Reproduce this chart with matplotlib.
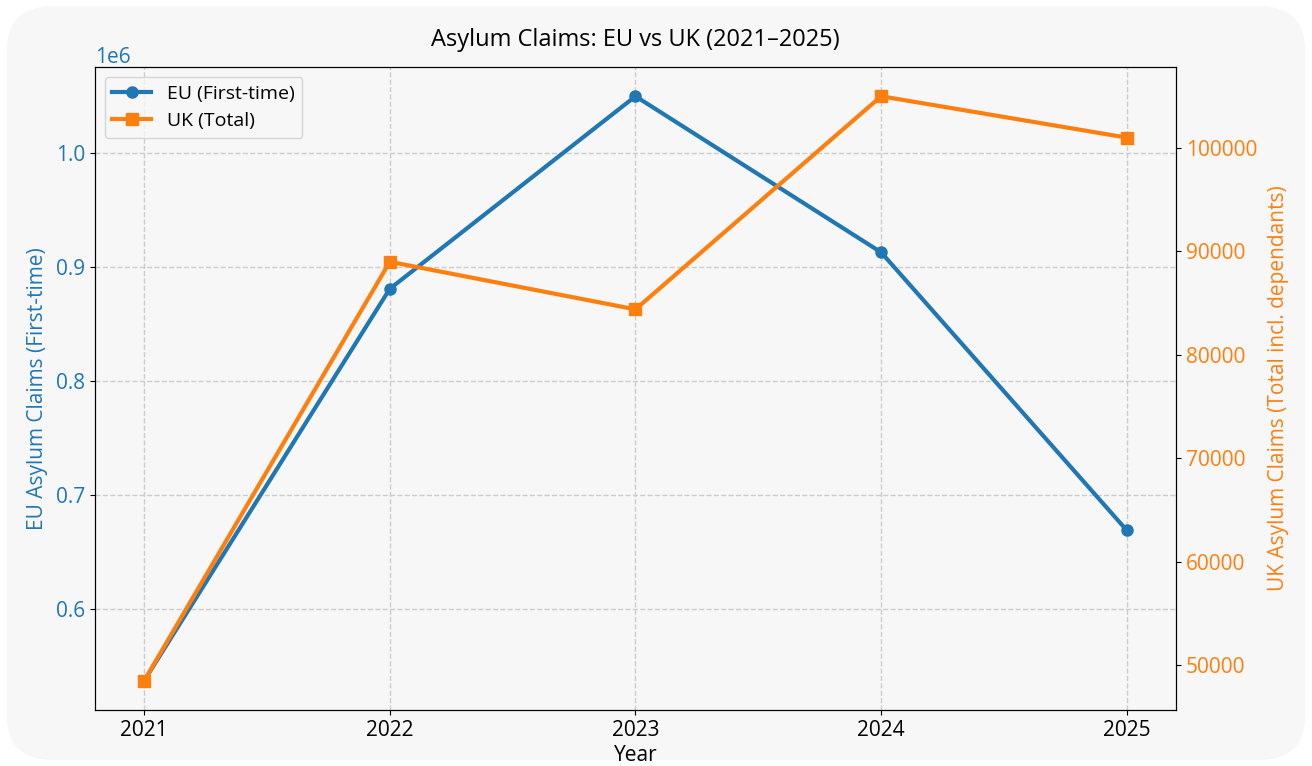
import matplotlib
matplotlib.use("Agg")
from matplotlib import pyplot as plt
from matplotlib.patches import FancyBboxPatch

plt.rcParams['font.family'] = ['Open Sans', 'DejaVu Sans']

# data
years = [2021, 2022, 2023, 2024, 2025]
eu_first_time = [537000, 881000, 1050000, 913000, 669000]
uk_total = [48500, 89000, 84400, 105000, 101000]

BLUE = '#1f77b4'
ORANGE = '#ff7f0e'
CARD = '#f7f7f7'

fig = plt.figure(figsize=(13.12, 7.66), dpi=100, facecolor='white')

# rounded card behind everything
card = FancyBboxPatch((0.005, 0.008), 0.99, 0.984,
                      boxstyle="round,pad=0,rounding_size=0.035",
                      transform=fig.transFigure, facecolor=CARD,
                      edgecolor='none', zorder=-10, mutation_aspect=1312 / 766)
fig.patches.append(card)

ax1 = fig.add_axes([0.0724, 0.0731, 0.8239, 0.8394])
ax1.set_facecolor(CARD)

l1, = ax1.plot(years, eu_first_time, color=BLUE, marker='o', lw=3, ms=8,
               label='EU (First-time)')
ax1.set_xlabel('Year', fontsize=15, labelpad=3)
ax1.set_ylabel('EU Asylum Claims (First-time)', color=BLUE, fontsize=15,
               labelpad=6)
ax1.tick_params(axis='y', labelcolor=BLUE, labelsize=15)
ax1.tick_params(axis='x', labelsize=15)
ax1.yaxis.get_offset_text().set_color(BLUE)
ax1.yaxis.get_offset_text().set_fontsize(15)
ax1.set_xticks(years)
ax1.grid(True, linestyle='--', color='#cccccc', lw=1)

ax2 = ax1.twinx()
l2, = ax2.plot(years, uk_total, color=ORANGE, marker='s', lw=3, ms=8,
               label='UK (Total)')
ax2.set_ylabel('UK Asylum Claims (Total incl. dependants)', color=ORANGE,
               fontsize=15, labelpad=8)
ax2.tick_params(axis='y', labelcolor=ORANGE, labelsize=15)

ax1.legend(handles=[l1, l2], loc='upper left', fontsize=14,
           facecolor=CARD, framealpha=0.8)

ax1.set_title('Asylum Claims: EU vs UK (2021–2025)', fontsize=17, pad=15)

fig.savefig('out.png', dpi=100, facecolor=fig.get_facecolor())
